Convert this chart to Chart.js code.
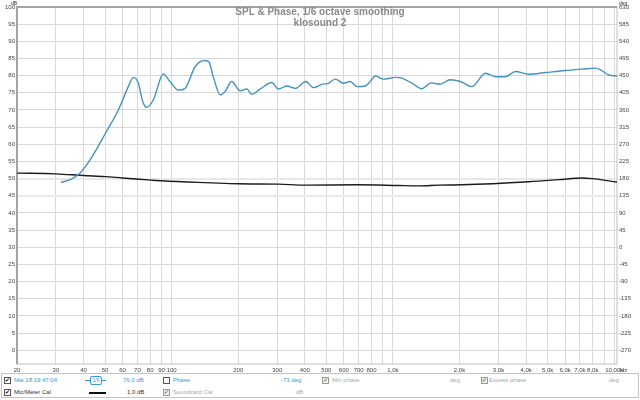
<!DOCTYPE html>
<html lang="de">
<head>
<meta charset="UTF-8" />
<title>SPL &amp; Phase, 1/6 octave smoothing</title>
<style>
  body { margin: 0; background: #fff; font-family: "Liberation Sans", Arial, sans-serif; }
  #wrap { position: relative; width: 640px; height: 400px; overflow: hidden; }
  .t { position: absolute; white-space: nowrap; font-size: 6px; line-height: 6px; }
  .blue { color: #3a98d4; }
  .gray { color: #a8a8a8; }
  .dark { color: #333; }
  .cb { position: absolute; width: 5px; height: 5px; border: 1px solid #555; background: #fff; font-size: 6px; line-height: 5px; text-align: center; color: #111; }
  .cb.g { border-color: #999; color: #888; background: #eee; }
  #title { position: absolute; top: 6px; left: 0; width: 640px; text-align: center; font-weight: bold; font-size: 10px; line-height: 11px; color: #8a8a8a; }
  #panel { position: absolute; left: 1px; top: 373px; width: 636px; height: 23px; border: 1px solid #c4c4c4; background: #fff; }
</style>
</head>
<body>
<div id="wrap">
  <canvas id="spl" width="640" height="400"></canvas>
  <div id="title">SPL &amp; Phase, 1/6 octave smoothing<br>klosound 2</div>
  <div class="t dark" style="left:11px;top:0px;font-size:5px;">dB</div>
  <div class="t dark" style="left:619px;top:0px;font-size:5px;">deg</div>
  <div class="t dark" style="left:620px;top:367px;">Hz</div>

  <!-- legend panel -->
  <div id="panel"></div>
  <div class="cb" style="left:4px;top:377px;">✔</div>
  <div class="t blue" style="left:14px;top:377px;">Mai 18 19:47:04</div>
  <div style="position:absolute;left:85px;top:380px;width:5px;height:1px;background:#3a98d4;"></div>
  <div style="position:absolute;left:101px;top:380px;width:5px;height:1px;background:#3a98d4;"></div>
  <div class="t blue" style="left:90px;top:376px;width:10px;height:7px;border:1px solid #3a98d4;border-radius:2px;font-size:5px;line-height:7px;text-align:center;">1/6</div>
  <div class="t blue" style="left:123px;top:377px;">76,0 dB</div>
  <div class="cb" style="left:163px;top:377px;"></div>
  <div class="t blue" style="left:173px;top:377px;">Phase</div>
  <div class="t blue" style="left:281px;top:377px;">-73 deg</div>
  <div class="cb g" style="left:322px;top:377px;">✔</div>
  <div class="t gray" style="left:332px;top:377px;">Min phase</div>
  <div class="t gray" style="left:450px;top:377px;">deg</div>
  <div class="cb g" style="left:481px;top:377px;">✔</div>
  <div class="t gray" style="left:489px;top:377px;">Excess phase</div>
  <div class="t gray" style="left:609px;top:377px;">deg</div>

  <div class="cb" style="left:4px;top:389px;">✔</div>
  <div class="t dark" style="left:14px;top:389px;">Mic/Meter Cal</div>
  <div style="position:absolute;left:89px;top:392px;width:17px;height:1.5px;background:#111;"></div>
  <div class="t dark" style="left:127px;top:389px;">1,0 dB</div>
  <div class="cb g" style="left:163px;top:389px;">✔</div>
  <div class="t gray" style="left:173px;top:389px;">Soundcard Cal</div>
  <div class="t gray" style="left:296px;top:389px;">dB</div>
</div>

<script src="https://cdn.jsdelivr.net/npm/chart.js@4.4.1/dist/chart.umd.min.js"></script>
<script>
  // SPL measurement (blue), Hz / dB
  const splFreq = [31.6, 35, 38.5, 43.5, 50, 57.4, 63.7, 67.1, 70.7, 74, 77.1, 82.6, 91.7, 98.3, 107.2, 115,
    127.6, 141, 147, 154.5, 165.6, 174.5, 186.9, 203.9, 218.5, 230.1, 251.2, 283.4, 304, 331.4, 361.7,
    404.1, 437.7, 485.8, 502.8, 548.8, 598.4, 641.6, 687.4, 750.2, 790.2, 832.5, 907.7, 1025, 1098,
    1219, 1353, 1490, 1630, 1818, 2018, 2278, 2618, 2906, 3226, 3580, 4111, 4893, 6026, 7164, 8239,
    8680, 9463, 10300];
  const splDb = [48.9, 49.8, 51.6, 56.2, 63, 70, 76.8, 79.5, 77.8, 72.5, 70.8, 72.9, 80.5, 78.3, 75.8, 76.3,
    82.6, 84.4, 84.1, 79.5, 74.4, 75.4, 78.3, 75.6, 76.1, 74.6, 76.1, 78.0, 76.1, 77.0, 76.3,
    78.3, 76.5, 77.6, 77.6, 79.0, 77.8, 78.3, 76.8, 77.0, 78.3, 79.9, 79.0, 79.5, 79.3,
    77.8, 76.2, 77.9, 77.5, 78.8, 78.3, 76.8, 80.7, 79.7, 79.7, 81.2, 80.4, 80.9, 81.5, 81.9, 82.2,
    81.7, 80.2, 79.9];

  // Mic/Meter Cal (black)
  const calFreq = [20, 30, 40, 50, 60, 90, 132, 163, 200, 304, 401, 700, 1060, 1307, 1610, 2050, 4111, 5620, 7164, 7953, 10300];
  const calDb = [51.6, 51.4, 50.9, 50.6, 50.2, 49.4, 48.9, 48.7, 48.5, 48.4, 48.1, 48.2, 48.0, 47.9, 48.1, 48.2, 49.1, 49.7, 50.2, 50.0, 49.0];

  const xTicks = [20, 30, 40, 50, 60, 70, 80, 90, 100, 200, 300, 400, 500, 600, 700, 800, 900,
    1000, 2000, 3000, 4000, 5000, 6000, 7000, 8000, 9000, 10000];
  const xLabels = ['20', '30', '40', '50', '60', '70', '80', '90', '100', '200', '300', '400', '500', '600', '700', '800', '',
    '1,0k', '2,0k', '3,0k', '4,0k', '5,0k', '6,0k', '7,0k', '8,0k', '', '10,00k'];
  const dbTicks = [0, 5, 10, 15, 20, 25, 30, 35, 40, 45, 50, 55, 60, 65, 70, 75, 80, 85, 90, 95, 100];
  const degTicks = [-270, -225, -180, -135, -90, -45, 0, 45, 90, 135, 180, 225, 270, 315, 360, 405, 450, 495, 540, 585, 630];

  const tickFont = { family: "'Liberation Sans', Arial, sans-serif", size: 6 };

  // frame round the plot area
  const frame = {
    id: 'frame',
    beforeDatasetsDraw(chart) {
      const a = chart.chartArea, c = chart.ctx;
      c.save();
      c.strokeStyle = '#c0c0c0';
      c.lineWidth = 1;
      c.strokeRect(a.left, a.top, a.right - a.left, a.bottom - a.top);
      c.strokeStyle = '#a4a4a4';
      c.lineWidth = 2;
      c.beginPath();
      c.moveTo(a.left, a.bottom);
      c.lineTo(a.left, a.top);
      c.lineTo(a.right, a.top);
      c.stroke();
      c.restore();
    }
  };

  new Chart(document.getElementById('spl').getContext('2d'), {
    type: 'line',
    data: {
      datasets: [{
        label: 'Mai 18 19:47:04',
        data: splFreq.map((f, i) => ({ x: f, y: splDb[i] })),
        borderColor: '#4592bf',
        borderWidth: 1.4,
        pointRadius: 0,
        cubicInterpolationMode: 'monotone',
        yAxisID: 'y'
      }, {
        label: 'Mic/Meter Cal',
        data: calFreq.map((f, i) => ({ x: f, y: calDb[i] })),
        borderColor: '#1c1c1c',
        borderWidth: 1.4,
        pointRadius: 0,
        cubicInterpolationMode: 'monotone',
        yAxisID: 'y'
      }]
    },
    options: {
      responsive: false,
      animation: false,
      layout: { padding: { top: 7, bottom: 27, left: 0, right: 0 } },
      plugins: { legend: { display: false }, tooltip: { enabled: false } },
      scales: {
        x: {
          type: 'logarithmic',
          min: 20,
          max: 10300,
          afterBuildTicks: s => { s.ticks = xTicks.map(v => ({ value: v })); },
          afterFit: s => { s.height = 9; },
          ticks: { autoSkip: false, maxRotation: 0, padding: 3, font: tickFont, color: '#444',
            callback: (v, i) => xLabels[i] },
          grid: { color: '#d8d8d8', lineWidth: 1, drawTicks: false },
          border: { display: false }
        },
        y: {
          position: 'left',
          min: -4,
          max: 100,
          afterBuildTicks: s => { s.ticks = dbTicks.map(v => ({ value: v })); },
          afterFit: s => { s.width = 17; },
          ticks: { padding: 2, font: tickFont, color: '#444', callback: v => String(v) },
          grid: {
            drawTicks: false,
            color: c => (c.tick && (c.tick.value === 50 || c.tick.value === 45)) ? '#e8e8e8' : '#d8d8d8',
            lineWidth: c => (c.tick && (c.tick.value === 50 || c.tick.value === 45)) ? 2 : 1
          },
          border: { display: false }
        },
        y2: {
          position: 'right',
          min: -306,
          max: 630,
          afterBuildTicks: s => { s.ticks = degTicks.map(v => ({ value: v })); },
          afterFit: s => { s.width = 23; },
          ticks: { padding: 2, font: tickFont, color: '#444', callback: v => String(v) },
          grid: { drawOnChartArea: false, drawTicks: false },
          border: { display: false }
        }
      }
    },
    plugins: [frame]
  });
</script>
</body>
</html>
